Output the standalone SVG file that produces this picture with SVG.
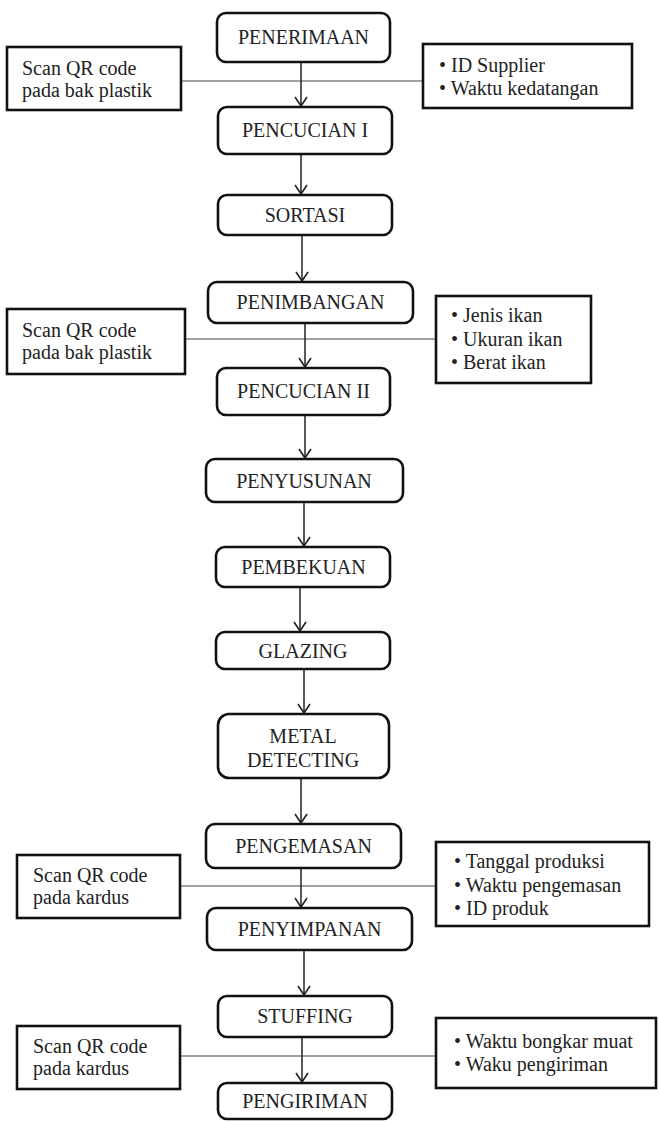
<svg xmlns="http://www.w3.org/2000/svg" width="659" height="1122" viewBox="0 0 659 1122">
  <style>
    .step { fill: #fff; stroke: #111; stroke-width: 2.6; }
    .note { fill: #fff; stroke: #111; stroke-width: 2.6; }
    text { font-family: 'Liberation Serif', 'DejaVu Serif', serif; font-size: 20px; fill: #222; }
    .mid { text-anchor: middle; }
    .flow { stroke: #222; stroke-width: 1.5; fill: none; marker-end: url(#chev); }
    .tie { stroke: #444; stroke-width: 1.2; fill: none; }
  </style>
  <defs>
    <marker id="chev" markerUnits="userSpaceOnUse" markerWidth="20" markerHeight="20" viewBox="-12 -10 14 20" refX="0" refY="0" orient="auto">
      <path d="M-9,-6 L0,0 L-9,6" fill="none" stroke="#222" stroke-width="1.6"/>
    </marker>
  </defs>

  <rect width="659" height="1122" fill="#fff"/>

  <!-- connectors -->
  <g id="connectors">
    <!-- note ties -->
    <line class="tie" x1="181" y1="81" x2="423" y2="81"/>
    <line class="tie" x1="185" y1="339" x2="436" y2="339"/>
    <line class="tie" x1="180" y1="886" x2="436" y2="886"/>
    <line class="tie" x1="180" y1="1056" x2="436" y2="1056"/>
    <!-- process flow -->
    <line class="flow" x1="301" y1="62" x2="301" y2="106"/>
    <line class="flow" x1="301" y1="154" x2="301" y2="194"/>
    <line class="flow" x1="302" y1="235" x2="302" y2="281"/>
    <line class="flow" x1="305" y1="323" x2="305" y2="367"/>
    <line class="flow" x1="305" y1="415" x2="305" y2="458"/>
    <line class="flow" x1="304" y1="502" x2="304" y2="546"/>
    <line class="flow" x1="300" y1="587" x2="300" y2="631"/>
    <line class="flow" x1="304" y1="669" x2="304" y2="713"/>
    <line class="flow" x1="301" y1="778" x2="301" y2="823"/>
    <line class="flow" x1="301" y1="868" x2="301" y2="907"/>
    <line class="flow" x1="304" y1="950" x2="304" y2="995"/>
    <line class="flow" x1="302" y1="1037" x2="302" y2="1082"/>
  </g>

  <!-- process steps -->
  <g id="penerimaan">
    <rect class="step" x="217" y="13" width="173" height="49" rx="9"/>
    <text class="mid" x="303.5" y="44">PENERIMAAN</text>
  </g>
  <g id="pencucian-1">
    <rect class="step" x="218" y="107" width="174" height="47" rx="9"/>
    <text class="mid" x="305" y="137">PENCUCIAN I</text>
  </g>
  <g id="sortasi">
    <rect class="step" x="218" y="195" width="174" height="40" rx="9"/>
    <text class="mid" x="305" y="221.5">SORTASI</text>
  </g>
  <g id="penimbangan">
    <rect class="step" x="208" y="282" width="205" height="41" rx="9"/>
    <text class="mid" x="310.5" y="309">PENIMBANGAN</text>
  </g>
  <g id="pencucian-2">
    <rect class="step" x="217" y="368" width="173" height="47" rx="9"/>
    <text class="mid" x="303.5" y="398">PENCUCIAN II</text>
  </g>
  <g id="penyusunan">
    <rect class="step" x="206" y="459" width="197" height="43" rx="9"/>
    <text class="mid" x="304" y="487.5">PENYUSUNAN</text>
  </g>
  <g id="pembekuan">
    <rect class="step" x="216" y="547" width="174" height="40" rx="9"/>
    <text class="mid" x="303.5" y="574">PEMBEKUAN</text>
  </g>
  <g id="glazing">
    <rect class="step" x="216" y="632" width="174" height="37" rx="9"/>
    <text class="mid" x="303" y="657.5">GLAZING</text>
  </g>
  <g id="metal-detecting">
    <rect class="step" x="218" y="714" width="171" height="64" rx="11"/>
    <text class="mid" x="303" y="743">METAL</text>
    <text class="mid" x="303" y="767">DETECTING</text>
  </g>
  <g id="pengemasan">
    <rect class="step" x="206" y="824" width="195" height="44" rx="9"/>
    <text class="mid" x="303.5" y="852.5">PENGEMASAN</text>
  </g>
  <g id="penyimpanan">
    <rect class="step" x="207" y="908" width="205" height="42" rx="9"/>
    <text class="mid" x="309.5" y="936">PENYIMPANAN</text>
  </g>
  <g id="stuffing">
    <rect class="step" x="218" y="996" width="174" height="41" rx="9"/>
    <text class="mid" x="305" y="1023">STUFFING</text>
  </g>
  <g id="pengiriman">
    <rect class="step" x="218" y="1083" width="174" height="36" rx="9"/>
    <text class="mid" x="305" y="1108">PENGIRIMAN</text>
  </g>

  <!-- scan notes (left) -->
  <g id="scan-1">
    <rect class="note" x="7" y="47" width="174" height="63"/>
    <text x="22" y="75">Scan QR code</text>
    <text x="22" y="97">pada bak plastik</text>
  </g>
  <g id="scan-2">
    <rect class="note" x="7" y="309" width="178" height="65"/>
    <text x="22" y="337">Scan QR code</text>
    <text x="22" y="359">pada bak plastik</text>
  </g>
  <g id="scan-3">
    <rect class="note" x="17" y="855" width="163" height="63"/>
    <text x="33" y="882">Scan QR code</text>
    <text x="33" y="904">pada kardus</text>
  </g>
  <g id="scan-4">
    <rect class="note" x="17" y="1026" width="163" height="63"/>
    <text x="33" y="1053">Scan QR code</text>
    <text x="33" y="1075">pada kardus</text>
  </g>

  <!-- data notes (right) -->
  <g id="data-1">
    <rect class="note" x="423" y="44" width="209" height="64"/>
    <text x="439" y="72">• ID Supplier</text>
    <text x="439" y="95">• Waktu kedatangan</text>
  </g>
  <g id="data-2">
    <rect class="note" x="436" y="296" width="155" height="87"/>
    <text x="451" y="322">• Jenis ikan</text>
    <text x="451" y="346">• Ukuran ikan</text>
    <text x="451" y="369">• Berat ikan</text>
  </g>
  <g id="data-3">
    <rect class="note" x="436" y="842" width="213" height="84"/>
    <text x="454" y="868">• Tanggal produksi</text>
    <text x="454" y="892">• Waktu pengemasan</text>
    <text x="454" y="915">• ID produk</text>
  </g>
  <g id="data-4">
    <rect class="note" x="436" y="1018" width="220" height="70"/>
    <text x="454" y="1048">• Waktu bongkar muat</text>
    <text x="454" y="1071">• Waku pengiriman</text>
  </g>
</svg>
